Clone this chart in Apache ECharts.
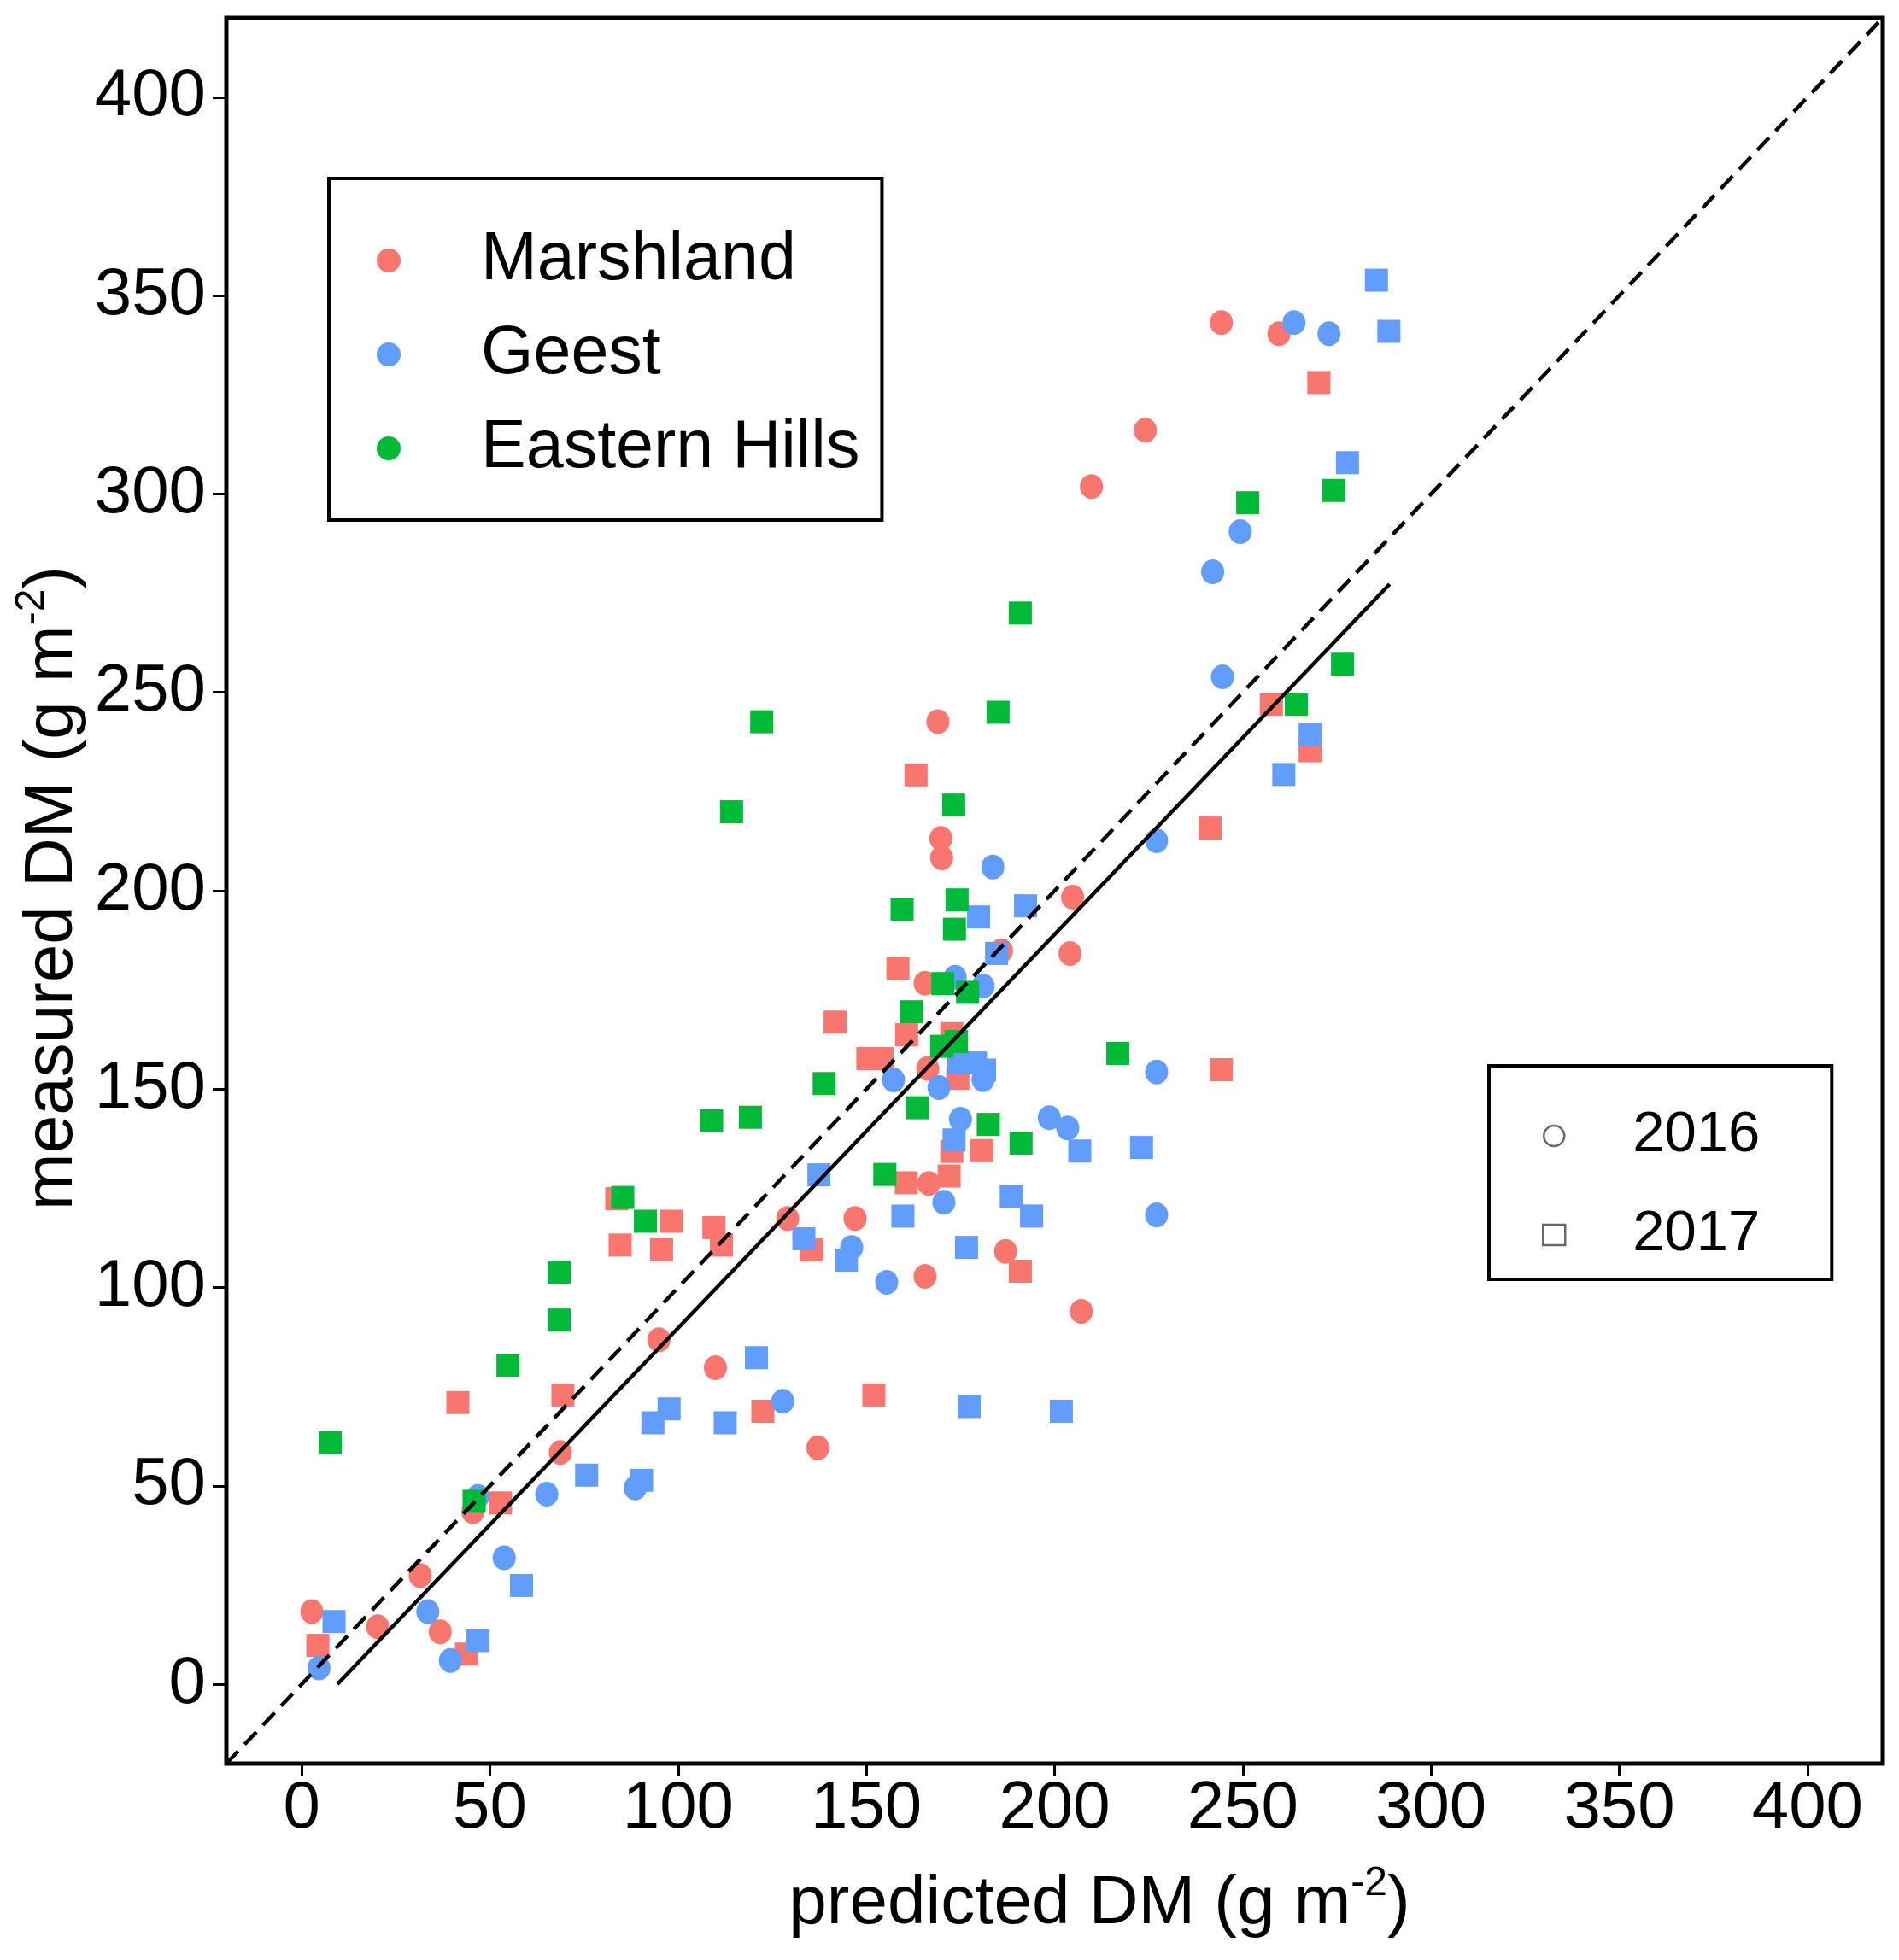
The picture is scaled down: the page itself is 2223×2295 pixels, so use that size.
<!DOCTYPE html>
<html>
<head>
<meta charset="utf-8">
<script src="https://cdn.jsdelivr.net/npm/echarts@6/dist/echarts.min.js"></script>
<style>
html,body{margin:0;padding:0;background:#fff;}
#chart{width:2223px;height:2295px;}
</style>
</head>
<body>
<div id="chart"></div>
<script>
// ---- data (predicted DM, measured DM) ----
var marsh2016 = [[2.7,18.3],[20.2,14.5],[31.5,27.4],[36.8,13.2],[45.5,43.5],[68.7,58.4],[94.9,86.8],[109.9,79.8],[129.1,117.4],[137.1,59.6],[147,117.4],[165.6,102.8],[165.6,176.7],[166.3,155.2],[166.6,126.2],[169,242.6],[169.8,213.2],[170,208.3],[185.9,184.9],[187,109.1],[204.1,184.2],[204.8,198.4],[207.1,94],[209.8,301.9],[224.1,316.1],[244.3,343.2],[259.6,340.4]];
var marsh2017 = [[4.3,9.8],[43.8,7.6],[41.5,71],[52.8,45.7],[69.4,72.9],[83.7,122.4],[84.6,110.7],[95.6,109.5],[98.3,116.7],[109.5,115.1],[111.5,110.7],[122.5,68.8],[135.4,109.5],[141.7,166.9],[152,72.9],[150.4,157.7],[154.2,157.7],[158.4,180.5],[160.7,163.7],[160.6,126.4],[163.2,229.2],[172,128.1],[172.7,134.3],[172.7,164],[174.3,152.7],[180.7,134.5],[190.9,104.1],[241.3,215.8],[244.3,154.9],[257.6,247],[267.9,235.3],[270.2,328.1]];
var geest2016 = [[4.6,4.1],[33.5,18.3],[39.5,6],[46.8,47.3],[53.8,31.9],[65.1,47.9],[88.6,49.5],[127.8,71.3],[146.1,110.1],[155.4,101.3],[157.2,152.3],[169.3,150.4],[170.6,121.5],[173.6,178.2],[175,142.4],[181,152.4],[181,176],[183.6,206],[198.6,142.8],[203.5,140.2],[227.1,212.6],[227.1,154.3],[227.1,118.3],[242,280.4],[244.6,253.9],[249.3,290.5],[263.6,343.2],[272.9,340.4]];
var geest2017 = [[8.6,15.8],[46.8,11],[58.4,24.9],[75.7,52.7],[90.3,51.4],[93.3,65.9],[97.6,69.4],[112.5,65.9],[120.8,82.3],[133.4,112.3],[137.4,128.4],[144.7,106.9],[159.7,118],[173.3,137.2],[174.5,156.6],[179,156.6],[181.4,154.8],[176.6,110.1],[177.3,70],[179.8,193.4],[184.6,184.2],[188.5,123],[192.3,196.2],[193.9,118],[201.8,68.8],[206.7,134.4],[223.1,135.3],[260.9,229.3],[267.9,239.4],[277.8,307.9],[285.5,353.9],[288.8,341]];
var hills2017 = [[7.6,60.9],[45.8,46.1],[54.8,80.4],[68.4,91.8],[68.4,103.8],[85.3,122.7],[91.3,116.7],[108.9,142],[119.2,142.9],[114.2,219.9],[122.2,242.6],[138.8,151.4],[154.9,128.5],[159.5,195.3],[162,169.5],[163.6,145.3],[170,160.8],[170.3,176.6],[173.2,221.6],[173.4,190.3],[174.1,197.7],[173.9,162],[176.9,174.4],[182.4,141.1],[185,245],[191.1,136.4],[190.9,270],[216.8,159],[251.3,297.8],[264.2,247],[274.2,300.9],[276.5,257.1]];

var regions = ['Marshland', 'Geest', 'Eastern Hills'];
var years = ['2016', '2017'];
var tickValues = [0, 50, 100, 150, 200, 250, 300, 350, 400];
var axisRange = [-20, 420];
var identityLine = [[-20, -20], [420, 420]];
var regSlope = 0.992, regIntercept = -9.4, regXRange = [9.5, 289];
var regLine = regXRange.map(function (x) { return [x, regSlope * x + regIntercept]; });

var colors = { 'Marshland': '#F8766D', 'Geest': '#619CFF', 'Eastern Hills': '#00BA38' };
var FONT = 'Liberation Sans, Arial, sans-serif';

function scat(name, data, symbol) {
  return {
    type: 'scatter', name: name, data: data,
    symbol: symbol,
    symbolSize: symbol === 'circle' ? [27, 29] : [27, 27],
    itemStyle: { color: colors[name], opacity: 1 },
    z: 3
  };
}

var chart = echarts.init(document.getElementById('chart'), null, { renderer: 'canvas' });
var option = {
  backgroundColor: '#fff',
  animation: false,
  grid: { left: 265, right: 19, top: 21, bottom: 230, show: true, borderColor: '#000', borderWidth: 5, backgroundColor: 'transparent' },
  xAxis: {
    type: 'value', min: axisRange[0], max: axisRange[1],
    axisLine: { show: false, onZero: false },
    splitLine: { show: false },
    axisTick: { show: true, customValues: tickValues, length: 14, lineStyle: { color: '#000', width: 3 } },
    axisLabel: { customValues: tickValues, fontSize: 78, color: '#000', fontFamily: FONT, margin: 14 }
  },
  yAxis: {
    type: 'value', min: axisRange[0], max: axisRange[1],
    axisLine: { show: false, onZero: false },
    splitLine: { show: false },
    axisTick: { show: true, customValues: tickValues, length: 16, lineStyle: { color: '#000', width: 3 } },
    axisLabel: { customValues: tickValues, fontSize: 78, color: '#000', fontFamily: FONT, margin: 24 }
  },
  legend: [
    {
      orient: 'vertical', left: 385, top: 209,
      borderColor: '#000', borderWidth: 4, backgroundColor: '#fff',
      padding: [56, 26, 44, 56],
      itemGap: 30, itemWidth: 30, itemHeight: 28,
      textStyle: { fontSize: 79, color: '#000', fontFamily: FONT, padding: [0, 0, 0, 88], lineHeight: 80 },
      data: regions.map(function (r) { return { name: r, icon: 'circle' }; }),
      selectedMode: false
    },
    {
      orient: 'vertical', left: 1743, top: 1248,
      borderColor: '#000', borderWidth: 4, backgroundColor: '#fff',
      padding: [48, 84, 18, 62],
      itemGap: 48, itemWidth: 26, itemHeight: 24,
      textStyle: { fontSize: 67, color: '#000', fontFamily: FONT, padding: [0, 0, 0, 74], lineHeight: 68 },
      data: [
        { name: years[0], icon: 'circle', itemStyle: { color: '#fff', borderColor: '#444', borderWidth: 2.5 } },
        { name: years[1], icon: 'rect', itemStyle: { color: '#fff', borderColor: '#444', borderWidth: 2.5 } }
      ],
      selectedMode: false
    }
  ],
  series: [
    {
      type: 'line', name: 'identity', data: identityLine, symbol: 'none', silent: true,
      lineStyle: { color: '#000', width: 4.5, type: [20, 11] }, z: 4
    },
    {
      type: 'line', name: 'regression', data: regLine, symbol: 'none', silent: true,
      lineStyle: { color: '#000', width: 4.5, type: 'solid' }, z: 4
    },
    scat('Marshland', marsh2016, 'circle'),
    scat('Marshland', marsh2017, 'rect'),
    scat('Geest', geest2016, 'circle'),
    scat('Geest', geest2017, 'rect'),
    scat('Eastern Hills', hills2017, 'rect'),
    { type: 'scatter', name: years[0], data: [], symbol: 'circle' },
    { type: 'scatter', name: years[1], data: [], symbol: 'rect' }
  ],
  graphic: [
    {
      type: 'text', x: 1287, y: 2226,
      style: {
        text: '{n|predicted DM (g m}{s|-2}{n|)}',
        align: 'center', verticalAlign: 'middle',
        rich: {
          n: { fontSize: 80, fontFamily: FONT, fill: '#000', lineHeight: 88, verticalAlign: 'bottom' },
          s: { fontSize: 48, fontFamily: FONT, fill: '#000', lineHeight: 88, verticalAlign: 'top' }
        }
      }
    },
    {
      type: 'text', x: 58, y: 1040, rotation: Math.PI / 2,
      style: {
        text: '{n|measured DM (g m}{s|-2}{n|)}',
        align: 'center', verticalAlign: 'middle',
        rich: {
          n: { fontSize: 80, fontFamily: FONT, fill: '#000', lineHeight: 88, verticalAlign: 'bottom' },
          s: { fontSize: 48, fontFamily: FONT, fill: '#000', lineHeight: 88, verticalAlign: 'top' }
        }
      }
    }
  ]
};
chart.setOption(option);
</script>
</body>
</html>
